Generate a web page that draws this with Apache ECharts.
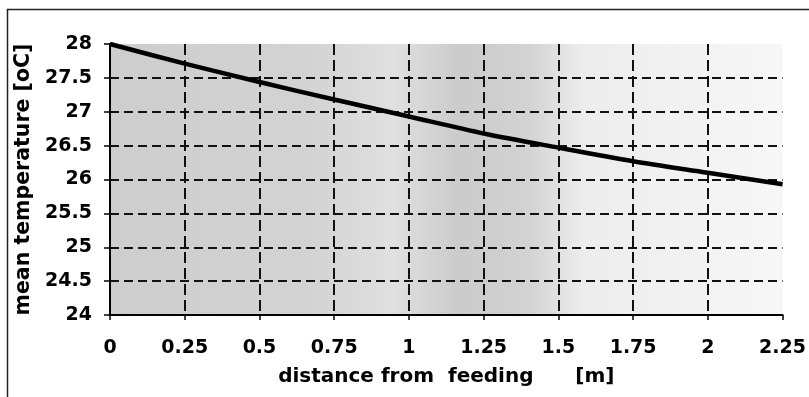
<!DOCTYPE html>
<html>
<head>
<meta charset="utf-8">
<script src="https://cdn.jsdelivr.net/npm/echarts@6/dist/echarts.min.js"></script>
<style>
  html, body { margin: 0; padding: 0; background: #fff; }
  #chart { width: 809px; height: 397px; }
</style>
</head>
<body>
<div id="chart"></div>
<script>
// distance from feeding [m]
const distance = [0, 0.25, 0.5, 0.75, 1, 1.25, 1.5, 1.75, 2, 2.25]
// mean temperature [oC]
const meanTemp = [28.0, 27.71, 27.44, 27.18, 26.93, 26.68, 26.47, 26.27, 26.10, 25.93]

const black = '#000'
const fontFam = '"DejaVu Sans", Arial, sans-serif'

const myChart = echarts.init(document.getElementById('chart'), null, { renderer: 'canvas' })

myChart.setOption({
  animation: false,
  grid: {
    left: 110,
    right: 22,
    top: 44,
    bottom: 82,
    show: true,
    borderWidth: 0,
    // scanned grey shading behind the plot
    backgroundColor: new echarts.graphic.LinearGradient(0, 0, 1, 0, [
      { offset: 0, color: '#cdcdcd' },
      { offset: 0.3, color: '#d3d3d3' },
      { offset: 0.42, color: '#e0e0e0' },
      { offset: 0.52, color: '#cbcbcb' },
      { offset: 0.62, color: '#d2d2d2' },
      { offset: 0.7, color: '#ececec' },
      { offset: 1, color: '#f7f7f7' },
    ]),
  },
  graphic: [
    {
      // outer frame of the figure (right/bottom run off the page)
      type: 'rect',
      shape: { x: 7.5, y: 9.5, width: 830, height: 420 },
      style: { fill: 'none', stroke: '#222', lineWidth: 1.5 },
      silent: true,
    },
  ],
  xAxis: {
    type: 'value',
    min: 0,
    max: 2.25,
    interval: 0.25,
    name: 'distance from  feeding      [m]',
    nameLocation: 'middle',
    nameGap: 52,
    nameTextStyle: { color: black, fontSize: 20, fontWeight: 'bold', fontFamily: fontFam },
    axisLine: { show: true, onZero: false, lineStyle: { color: black, width: 2 } },
    axisTick: { show: true, inside: false, length: 5, lineStyle: { color: black, width: 1.5 } },
    axisLabel: { color: black, fontSize: 19, fontWeight: 'bold', fontFamily: fontFam, margin: 24 },
    splitLine: {
      show: true,
      showMinLine: false,
      showMaxLine: false,
      lineStyle: { color: '#111', width: 2, type: [11, 5] },
    },
  },
  yAxis: {
    type: 'value',
    min: 24,
    max: 28,
    interval: 0.5,
    name: 'mean temperature [oC]',
    nameLocation: 'middle',
    nameGap: 76,
    nameTextStyle: { color: black, fontSize: 20.5, fontWeight: 'bold', fontFamily: fontFam },
    axisLine: { show: true, lineStyle: { color: black, width: 2 } },
    axisTick: { show: true, inside: false, length: 6, lineStyle: { color: black, width: 1.5 } },
    axisLabel: { color: black, fontSize: 19, fontWeight: 'bold', fontFamily: fontFam, margin: 18 },
    splitLine: {
      show: true,
      showMinLine: false,
      showMaxLine: false,
      lineStyle: { color: '#111', width: 2, type: [9, 5] },
    },
  },
  series: [
    {
      name: 'mean temperature',
      type: 'line',
      data: distance.map((d, i) => [d, meanTemp[i]]),
      smooth: 0.3,
      symbol: 'none',
      lineStyle: { color: black, width: 4.5 },
    },
  ],
})
</script>
</body>
</html>
